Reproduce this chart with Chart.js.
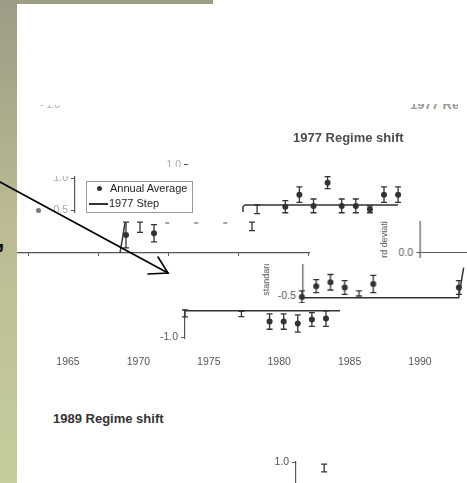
<!DOCTYPE html>
<html>
<head>
<meta charset="utf-8">
<script src="https://cdn.jsdelivr.net/npm/chart.js@4/dist/chart.umd.min.js"></script>
<style>
html, body { margin: 0; padding: 0; background: #fff; }
#page { position: relative; width: 467px; height: 483px; overflow: hidden; background: #fff; font-family: 'Liberation Sans', Arial, sans-serif; }
.strip { position: absolute; left: 0; top: 0; width: 17px; height: 483px; background: linear-gradient(#9c9b86, #bbba93 45%, #c5cd9b); }
.band { position: absolute; left: 0; top: 0; width: 213px; height: 4px; background: #9d9c86; }
.clip { position: absolute; overflow: hidden; }
.clip > div { position: absolute; }
.txt { position: absolute; white-space: nowrap; }
</style>
</head>
<body>
<div id="page">
  <div class="strip"></div>
  <div class="band"></div>
</div>
<script>
// x axis under the figure
var yearTicks = [1965, 1970, 1975, 1980, 1985, 1990];

// left piece: early years just above the zero line
var earlyYears = [1972, 1973, 1974, 1981];
var earlyValues = [0.21, 0.30, 0.23, 0.31];
var earlyErrors = [0.15, 0.06, 0.10, 0.05];
var earlyDots = [1, 0, 1, 0];
var earlyStepX = [1971.57, 1971.93];
var earlyStepY = [0, 0.35];
var earlyDashX = [1974.8, 1980.3];
var earlyDashY = [0.35, 0.35];
var earlyAxisTicks = [1965, 1970, 1975, 1980, 1985];

// 1977 Regime shift, upper piece
var upYears = [1978, 1980, 1981, 1982, 1983, 1984, 1985, 1986, 1987, 1988];
var upValues = [0.25, 0.28, 0.42, 0.29, 0.56, 0.29, 0.29, 0.25, 0.42, 0.42];
var upErrors = [0.05, 0.07, 0.09, 0.08, 0.07, 0.08, 0.08, 0.04, 0.09, 0.09];
var upDots = [0, 1, 1, 1, 1, 1, 1, 1, 1, 1];
var upStepX = [1977, 1977, 1977.15, 1988];
var upStepY = [0.22, 0.28, 0.30, 0.30];

// middle piece around -0.5
var midYears = [1979, 1980, 1981, 1982, 1983, 1984, 1990];
var midValues = [-0.51, -0.385, -0.34, -0.40, -0.47, -0.36, -0.40];
var midErrors = [0.07, 0.075, 0.09, 0.08, 0.03, 0.10, 0.08];
var midDots = [1, 1, 1, 1, 0, 1, 1];
var midStepX = [1979.085, 1989.98, 1990.33];
var midStepY = [-0.52, -0.52, -0.17];

// lower piece around -1.0
var lowYears = [1974, 1978, 1980, 1981, 1982, 1983, 1984];
var lowValues = [-0.72, -0.727, -0.814, -0.814, -0.837, -0.79, -0.78];
var lowErrors = [0.04, 0.03, 0.09, 0.09, 0.1, 0.08, 0.09];
var lowDots = [0, 0, 1, 1, 1, 1, 1];
var lowStepX = [1974, 1985];
var lowStepY = [-0.69, -0.69];

// bottom piece (1989 panel)
var botYears = [1965];
var botValues = [0.93];
var botErrors = [0.045];
var botDots = [0];

var INK = '#333', FONT = "'Liberation Sans', Arial, sans-serif", M = 8;
var page = document.getElementById('page');

var errorBars = {
  id: 'errorBars',
  afterDatasetsDraw: function(chart) {
    var ctx = chart.ctx, xs = chart.scales.x, ys = chart.scales.y;
    chart.data.datasets.forEach(function(ds) {
      if (!ds.errs) return;
      ctx.save(); ctx.strokeStyle = INK; ctx.lineWidth = 1.3;
      ds.data.forEach(function(p, i) {
        var px = xs.getPixelForValue(p.x), t = ys.getPixelForValue(p.y + ds.errs[i]), b = ys.getPixelForValue(p.y - ds.errs[i]);
        ctx.beginPath(); ctx.moveTo(px, t); ctx.lineTo(px, b);
        ctx.moveTo(px - 3, t); ctx.lineTo(px + 3, t);
        ctx.moveTo(px - 3, b); ctx.lineTo(px + 3, b); ctx.stroke();
      });
      ctx.restore();
    });
  }
};

function pts(xs, ys) { return xs.map(function(x, i) { return { x: x, y: ys[i] }; }); }
function pointSet(xs, ys, errs, dots) {
  return { data: pts(xs, ys), errs: errs, pointRadius: dots.map(function(d) { return d ? 3 : 0; }), backgroundColor: INK, borderColor: INK, borderWidth: 0, clip: false };
}
function lineSet(xs, ys, color, dash) {
  return { data: pts(xs, ys), showLine: true, pointRadius: 0, borderColor: color || INK, borderWidth: 1.5, borderDash: dash || [], clip: false };
}

// one cut-out piece of the slide: a chart whose plot area sits at f.area, seen through the window f.clip
function frag(f) {
  var axW = f.axisW || 0, axH = f.axisH || 0;
  var clip = document.createElement('div'); clip.className = 'clip';
  clip.style.cssText = 'left:' + f.clip[0] + 'px;top:' + f.clip[1] + 'px;width:' + f.clip[2] + 'px;height:' + f.clip[3] + 'px;';
  var box = document.createElement('div');
  box.style.cssText = 'left:' + (f.area[0] - axW - M - f.clip[0]) + 'px;top:' + (f.area[1] - M - f.clip[1]) + 'px;width:' + (f.area[2] + axW + 2 * M) + 'px;height:' + (f.area[3] + axH + 2 * M) + 'px;';
  var cv = document.createElement('canvas');
  box.appendChild(cv); clip.appendChild(box); page.appendChild(clip);
  var tickColor = f.faded ? '#aaa' : '#555';
  new Chart(cv, {
    type: 'scatter',
    data: { datasets: f.datasets || [] },
    options: {
      responsive: true, maintainAspectRatio: false, animation: false,
      layout: { padding: M, autoPadding: false },
      plugins: { legend: { display: false }, tooltip: { enabled: false } },
      scales: {
        x: {
          type: 'linear', min: f.x[0], max: f.x[1], display: !!axH,
          afterFit: function(s) { s.height = axH; s.paddingLeft = 0; s.paddingRight = 0; },
          afterBuildTicks: function(s) { if (f.xTicks) s.ticks = f.xTicks.map(function(v) { return { value: v }; }); },
          grid: { display: !!f.xMarks, drawOnChartArea: false, drawTicks: !!f.xMarks, tickLength: 3, color: '#555' },
          border: { display: !!f.xMarks, color: '#555', width: 1.2 },
          ticks: { display: !!f.xLabels, padding: 0, color: '#555', font: { family: FONT, size: 10.5 }, callback: function(v) { return String(v); } }
        },
        y: {
          min: f.y[0], max: f.y[1], display: !!axW,
          afterFit: function(s) { s.width = axW; s.paddingTop = 0; s.paddingBottom = 0; },
          afterBuildTicks: function(s) { if (f.yTicks) s.ticks = f.yTicks.map(function(v) { return { value: v }; }); },
          grid: { drawOnChartArea: !!f.zeroLine, tickLength: 4, color: function(c) { return f.zeroLine && c.tick && c.tick.value !== 0 ? 'rgba(0,0,0,0)' : '#555'; }, tickColor: '#555' },
          border: { display: f.yBorder !== false, color: '#555', width: 1.2 },
          ticks: { padding: 3, color: tickColor, font: { family: FONT, size: 10.5 }, callback: function(v) { return v.toFixed(1); } },
          title: { display: !!f.title, text: f.title || '', color: '#555', padding: 0, font: { family: FONT, size: 9 } }
        }
      }
    },
    plugins: [errorBars]
  });
}

function text(str, left, top, css) {
  var d = document.createElement('div'); d.className = 'txt';
  d.style.cssText = 'left:' + left + 'px;top:' + top + 'px;' + (css || '');
  d.textContent = str; page.appendChild(d); return d;
}

// year labels along the bottom
frag({ clip: [0, 340, 467, 40], area: [0, 346, 467, 10], axisH: 25, x: [1960.17, 1993.34], y: [0, 1], xTicks: yearTicks, xLabels: true });

// early piece with its zero line
frag({ clip: [17, 212, 300, 50], area: [17, 215, 292, 38], axisH: 5, x: [1964.214, 1985.07], y: [0, 0.442], xTicks: earlyAxisTicks, xMarks: true,
  datasets: [lineSet(earlyStepX, earlyStepY), lineSet(earlyDashX, earlyDashY, '#888', [4, 25]), pointSet(earlyYears, earlyValues, earlyErrors, earlyDots)] });

// faded axis scraps
frag({ clip: [30, 176, 60, 37], area: [75, 170, 12, 42], axisW: 40, x: [0, 1], y: [0.469, 1.125], yTicks: [0.5, 1.0], faded: true });
frag({ clip: [160, 159, 40, 8], area: [188, 150, 10, 30], axisW: 40, x: [0, 1], y: [0.826, 1.174], yTicks: [1.0], faded: true, yBorder: false });

// 1977 regime, upper piece
frag({ clip: [236, 170, 170, 48], area: [240, 175, 160, 40], x: [1976.787, 1988.135], y: [0.184, 0.649],
  datasets: [lineSet(upStepX, upStepY), pointSet(upYears, upValues, upErrors, upDots)] });

// right axis piece with 0.0
frag({ clip: [372, 221, 95, 37], area: [420, 205, 47, 86], axisW: 40.9, x: [0, 1], y: [-0.442, 0.558], yTicks: [0, 0.5], zeroLine: true, title: 'standard deviation' });

// middle piece around -0.5
frag({ clip: [255, 264, 212, 39], area: [303, 220, 164, 78], axisW: 41.9, x: [1979.085, 1990.63], y: [-0.523, 0.384], yTicks: [-0.5, 0], title: 'standard deviation',
  datasets: [lineSet(midStepX, midStepY), pointSet(midYears, midValues, midErrors, midDots)] });

// lower piece around -1.0
frag({ clip: [140, 306, 210, 40], area: [185, 309.5, 160, 28.5], axisW: 40, x: [1974, 1985.35], y: [-1.0116, -0.68], yTicks: [-1.0],
  datasets: [lineSet(lowStepX, lowStepY), pointSet(lowYears, lowValues, lowErrors, lowDots)] });

// bottom piece of the 1989 panel
frag({ clip: [250, 452, 217, 31], area: [296, 462, 171, 28], axisW: 40, x: [1963, 1975.13], y: [0.674, 1.0], yTicks: [1.0],
  datasets: [pointSet(botYears, botValues, botErrors, botDots)] });

// titles
text('1977 Regime shift', 293, 131, 'font:bold 13px/14px ' + FONT + ';color:#4d4d4d;');
text('1989 Regime shift', 53, 412, 'font:bold 13px/14px ' + FONT + ';color:#333;');

// cut-off text scraps near the top
var c1 = document.createElement('div'); c1.className = 'clip'; c1.style.cssText = 'left:408px;top:104px;width:50px;height:5px;';
c1.innerHTML = '<div style="left:2px;top:-6px;font:bold 13px/14px ' + FONT + ';color:#999;white-space:nowrap">1977 Regime shift</div>'; page.appendChild(c1);
var c2 = document.createElement('div'); c2.className = 'clip'; c2.style.cssText = 'left:38px;top:105px;width:24px;height:4px;';
c2.innerHTML = '<div style="left:2px;top:-6px;font:10px/12px ' + FONT + ';color:#aaa;white-space:nowrap">• 1.0</div>'; page.appendChild(c2);

// legend
var lg = text('', 86, 181, 'width:105px;height:30px;border:1px solid #9a9a9a;background:#fff;font:11px/13px ' + FONT + ';color:#222;');
lg.innerHTML = '<div style="position:absolute;left:10px;top:4px;width:5px;height:5px;border-radius:50%;background:#333"></div>' +
  '<div style="position:absolute;left:23px;top:0px">Annual Average</div>' +
  '<div style="position:absolute;left:2px;top:21px;width:19px;height:1.5px;background:#333"></div>' +
  '<div style="position:absolute;left:22px;top:15px">1977 Step</div>';

// stray bullet left of the 0.5 axis
text('', 35.5, 207.5, 'width:5px;height:5px;border-radius:50%;background:#777;');

// glyph tail on the side strip
text('\u2019', -3, 240, 'font:bold 28px/28px ' + FONT + ';color:#111;');

// arrow
var svg = '<svg width="467" height="483" style="position:absolute;left:0;top:0"><g stroke="#000" stroke-width="1.6" fill="none" stroke-linecap="round">' +
  '<line x1="0" y1="182" x2="168" y2="273"/><polyline points="158,257 168,273 148,274"/></g></svg>';
page.insertAdjacentHTML('beforeend', svg);
</script>
</body>
</html>
